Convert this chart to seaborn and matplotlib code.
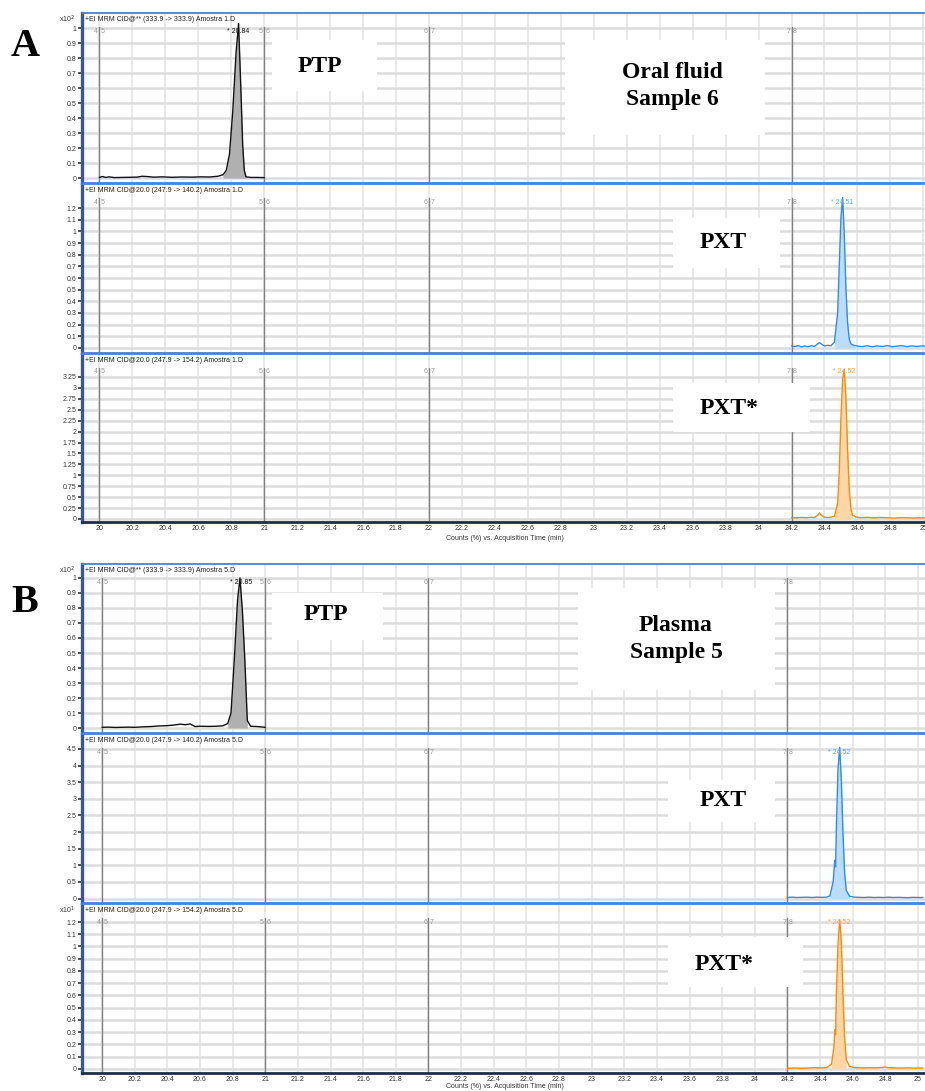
import numpy as np
import pandas as pd
import matplotlib
matplotlib.use("Agg")
import matplotlib.pyplot as plt
import seaborn as sns
from matplotlib.patches import Rectangle
from matplotlib.ticker import FuncFormatter

# ---- chromatogram traces (acquisition time in min, counts in axis units) ----
# A: oral fluid sample 6
a_ptp_t = [20.00, 20.02, 20.04, 20.06, 20.09, 20.13, 20.18, 20.23, 20.26, 20.29, 20.33, 20.38, 20.44,
           20.50, 20.56, 20.62, 20.67, 20.72, 20.75, 20.77, 20.79, 20.81, 20.83, 20.845, 20.86, 20.87,
           20.88, 20.89, 20.92, 20.96, 21.00]
a_ptp_y = [0.004, 0.010, 0.004, 0.008, 0.003, 0.004, 0.005, 0.006, 0.012, 0.010, 0.006, 0.008, 0.005,
           0.007, 0.006, 0.008, 0.007, 0.012, 0.022, 0.05, 0.16, 0.45, 0.84, 1.03, 0.56, 0.22,
           0.05, 0.008, 0.004, 0.004, 0.003]

a_pxt_t = [24.20, 24.22, 24.24, 24.26, 24.28, 24.30, 24.32, 24.34, 24.355, 24.37, 24.385, 24.40, 24.42,
           24.44, 24.46, 24.48, 24.49, 24.50, 24.51, 24.52, 24.53, 24.54, 24.55, 24.56, 24.58, 24.60,
           24.63, 24.66, 24.69, 24.72, 24.75, 24.78, 24.81, 24.84, 24.87, 24.90, 24.93, 24.96, 24.99, 25.02]
a_pxt_y = [0.018, 0.012, 0.020, 0.010, 0.016, 0.011, 0.019, 0.014, 0.032, 0.045, 0.030, 0.018, 0.022,
           0.020, 0.05, 0.30, 0.72, 1.12, 1.29, 0.98, 0.52, 0.22, 0.08, 0.035, 0.022, 0.016,
           0.012, 0.019, 0.011, 0.017, 0.013, 0.020, 0.011, 0.016, 0.019, 0.012, 0.017, 0.013, 0.018, 0.014]

a_pxts_t = [24.20, 24.23, 24.26, 24.29, 24.32, 24.34, 24.36, 24.37, 24.38, 24.40, 24.43, 24.46, 24.48,
            24.49, 24.50, 24.51, 24.52, 24.53, 24.54, 24.55, 24.56, 24.57, 24.59, 24.62, 24.66, 24.70,
            24.74, 24.78, 24.82, 24.86, 24.90, 24.94, 24.98, 25.02]
a_pxts_y = [0.03, 0.025, 0.035, 0.03, 0.04, 0.035, 0.09, 0.14, 0.09, 0.04, 0.035, 0.06, 0.35,
            1.10, 2.30, 3.20, 3.42, 2.80, 1.60, 0.70, 0.25, 0.09, 0.045, 0.03, 0.038, 0.025,
            0.035, 0.028, 0.02, 0.03, 0.025, 0.02, 0.028, 0.022]

# B: plasma sample 5
b_ptp_t = [20.00, 20.04, 20.08, 20.12, 20.16, 20.20, 20.25, 20.30, 20.35, 20.40, 20.44, 20.48, 20.51,
           20.54, 20.57, 20.60, 20.65, 20.70, 20.74, 20.77, 20.79, 20.81, 20.83, 20.845, 20.86, 20.875,
           20.89, 20.91, 20.95, 21.00]
b_ptp_y = [0.005, 0.006, 0.004, 0.005, 0.006, 0.005, 0.008, 0.010, 0.014, 0.016, 0.020, 0.026, 0.022,
           0.027, 0.010, 0.012, 0.011, 0.012, 0.015, 0.03, 0.10, 0.45, 0.85, 1.00, 0.78, 0.45,
           0.05, 0.012, 0.010, 0.005]

b_pxt_t = [24.20, 24.23, 24.26, 24.29, 24.32, 24.35, 24.38, 24.41, 24.44, 24.46, 24.48, 24.49, 24.495,
           24.50, 24.51, 24.52, 24.53, 24.54, 24.55, 24.56, 24.58, 24.61, 24.64, 24.67, 24.70, 24.73,
           24.76, 24.79, 24.82, 24.85, 24.88, 24.91, 24.94, 24.97, 25.00, 25.03]
b_pxt_y = [0.03, 0.04, 0.03, 0.035, 0.04, 0.03, 0.04, 0.035, 0.04, 0.08, 0.50, 1.15, 0.95,
           2.20, 3.90, 4.55, 3.60, 2.00, 0.80, 0.25, 0.07, 0.04, 0.035, 0.03, 0.04, 0.03,
           0.035, 0.03, 0.04, 0.03, 0.035, 0.03, 0.025, 0.035, 0.03, 0.03]

b_pxts_t = [24.20, 24.24, 24.28, 24.32, 24.36, 24.40, 24.44, 24.47, 24.485, 24.49, 24.495, 24.50, 24.51,
            24.52, 24.53, 24.54, 24.55, 24.56, 24.58, 24.62, 24.66, 24.70, 24.74, 24.78, 24.80, 24.82,
            24.86, 24.90, 24.94, 24.98, 25.03]
b_pxts_y = [0.005, 0.008, 0.006, 0.007, 0.01, 0.008, 0.01, 0.04, 0.18, 0.32, 0.28, 0.62, 1.02,
            1.22, 1.05, 0.62, 0.26, 0.08, 0.02, 0.01, 0.008, 0.01, 0.009, 0.012, 0.016, 0.01,
            0.008, 0.007, 0.009, 0.006, 0.008]

# peak integration windows and labels
a_windows = [(20.75, 20.90), (24.45, 24.58), (24.46, 24.58)]
b_windows = [(20.76, 20.90), (24.45, 24.59), (24.47, 24.57)]
a_peaks = [(20.84, "* 20.84"), (24.51, "* 24.51"), (24.52, "* 24.52")]
b_peaks = [(20.85, "* 20.85"), (24.52, "* 24.52"), (24.52, "* 24.52")]

titles_a = ["+EI MRM CID@** (333.9 -> 333.9) Amostra 1.D",
            "+EI MRM CID@20.0 (247.9 -> 140.2) Amostra 1.D",
            "+EI MRM CID@20.0 (247.9 -> 154.2) Amostra 1.D"]
titles_b = ["+EI MRM CID@** (333.9 -> 333.9) Amostra 5.D",
            "+EI MRM CID@20.0 (247.9 -> 140.2) Amostra 5.D",
            "+EI MRM CID@20.0 (247.9 -> 154.2) Amostra 5.D"]

# time segment boundaries
seg_times = [20.0, 21.0, 22.0, 24.2]
seg_labels = [("4", "5"), ("5", "6"), ("6", "7"), ("7", "8")]

x_ticks = [20, 20.2, 20.4, 20.6, 20.8, 21, 21.2, 21.4, 21.6, 21.8, 22, 22.2, 22.4, 22.6, 22.8,
           23, 23.2, 23.4, 23.6, 23.8, 24, 24.2, 24.4, 24.6, 24.8, 25]

BLACK, BLUE, ORANGE = "#111111", "#2b8cf2", "#ff8a00"
FILLS = {BLACK: "#b0b0b0", BLUE: "#bcdcfb", ORANGE: "#fdd6a8"}
LABEL_COL = {BLACK: "#111111", BLUE: "#58a8f5", ORANGE: "#f7a24a"}

sns.set_theme(style="white")
plt.rcParams["font.family"] = ["Liberation Sans", "DejaVu Sans"]

W, H = 925, 1091
fig = plt.figure(figsize=(W / 100, H / 100), dpi=100)


def px_axes(top, bottom, left=82, right=926):
    return fig.add_axes([left / W, 1 - bottom / H, (right - left) / W, (bottom - top) / H])


panels = [
    # group A
    dict(top=13, bottom=183, ylim=(-0.033, 1.10), step=0.1, ymax=1.0, mult="2",
         t=a_ptp_t, y=a_ptp_y, color=BLACK, win=a_windows[0], peak=a_peaks[0], title=titles_a[0],
         xlim=(19.895, 25.016), last=False),
    dict(top=184, bottom=353, ylim=(-0.043, 1.406), step=0.1, ymax=1.2, mult=None,
         t=a_pxt_t, y=a_pxt_y, color=BLUE, win=a_windows[1], peak=a_peaks[1], title=titles_a[1],
         xlim=(19.895, 25.016), last=False),
    dict(top=354, bottom=522, ylim=(-0.069, 3.776), step=0.25, ymax=3.25, mult=None,
         t=a_pxts_t, y=a_pxts_y, color=ORANGE, win=a_windows[2], peak=a_peaks[2], title=titles_a[2],
         xlim=(19.895, 25.016), last=True),
    # group B
    dict(top=564, bottom=733, ylim=(-0.033, 1.093), step=0.1, ymax=1.0, mult="2",
         t=b_ptp_t, y=b_ptp_y, color=BLACK, win=b_windows[0], peak=b_peaks[0], title=titles_b[0],
         xlim=(19.877, 25.049), last=False),
    dict(top=734, bottom=903, ylim=(-0.135, 4.95), step=0.5, ymax=4.5, mult=None,
         t=b_pxt_t, y=b_pxt_y, color=BLUE, win=b_windows[1], peak=b_peaks[1], title=titles_b[1],
         xlim=(19.877, 25.049), last=False),
    dict(top=904, bottom=1073, ylim=(-0.033, 1.347), step=0.1, ymax=1.2, mult="1",
         t=b_pxts_t, y=b_pxts_y, color=ORANGE, win=b_windows[2], peak=b_peaks[2], title=titles_b[2],
         xlim=(19.877, 25.049), last=True),
]

fmt = FuncFormatter(lambda v, _: f"{v:g}")

for p in panels:
    ax = px_axes(p["top"], p["bottom"])
    ax.set_xlim(*p["xlim"])
    ax.set_ylim(*p["ylim"])
    yt = np.round(np.arange(0, p["ymax"] + p["step"] / 2, p["step"]), 3)
    ax.set_yticks(yt)
    ax.yaxis.set_major_formatter(fmt)
    ax.set_xticks(x_ticks)
    ax.xaxis.set_major_formatter(fmt)

    # grid
    ax.grid(False)
    for xv in x_ticks:
        ax.axvline(xv, color="#e9e9e9", lw=1.4, zorder=0.5)
    for yv in yt:
        ax.axhline(yv, color="#dcdcdc", lw=1.8, zorder=0.6)

    # segment boundaries
    xf = ax.get_xaxis_transform()
    for xs, (l, r) in zip(seg_times, seg_labels):
        ax.axvline(xs, ymin=0, ymax=0.915, color="#808080", lw=1.0, zorder=1)
        ax.annotate(l, xy=(xs, 0.893), xycoords=xf, xytext=(-1, 0), textcoords="offset points",
                    ha="right", va="center", fontsize=5, color="#9a9a9a")
        ax.annotate(r, xy=(xs, 0.893), xycoords=xf, xytext=(1, 0), textcoords="offset points",
                    ha="left", va="center", fontsize=5, color="#9a9a9a")

    # trace + integrated peak
    t = np.array(p["t"])
    y = np.array(p["y"])
    lo, hi = p["win"]
    m = (t >= lo) & (t <= hi)
    ax.fill_between(t[m], 0, y[m], color=FILLS[p["color"]], lw=0, zorder=2)
    sns.lineplot(x=p["t"], y=p["y"], ax=ax, color=p["color"], lw=1.0, estimator=None,
                 sort=False, zorder=3)

    px, plab = p["peak"]
    ax.text(px, 0.893, plab, transform=xf, ha="center", va="center", fontsize=5,
            color=LABEL_COL[p["color"]], zorder=4)

    ax.text(0.003, 0.963, p["title"], transform=ax.transAxes, ha="left", va="center",
            fontsize=5, color="#222222")
    if p["mult"]:
        ax.text(-0.008, 0.965, r"x10$^{%s}$" % p["mult"], transform=ax.transAxes, ha="right",
                va="center", fontsize=5, color="#333333")

    ax.tick_params(axis="y", left=True, length=3, width=1.2, color="#333333", pad=1,
                   labelsize=5, labelcolor="#333333")
    ax.tick_params(axis="x", bottom=False, length=0, pad=2, labelsize=5, labelcolor="#333333")
    if not p["last"]:
        ax.tick_params(axis="x", labelbottom=False)
    ax.set_xlabel("")
    ax.set_ylabel("")

    for side in ["top", "right", "bottom"]:
        ax.spines[side].set_color("#4a80d6")
        ax.spines[side].set_linewidth(1.3)
    ax.spines["left"].set_color("#34589a")
    ax.spines["left"].set_linewidth(2.4)
    if p["last"]:
        ax.spines["bottom"].set_color("#1d2d4f")
        ax.spines["bottom"].set_linewidth(2.0)


def px_text(x, y, s, **kw):
    fig.text(x / W, 1 - y / H, s, **kw)


def px_box(x0, y0, x1, y1):
    fig.add_artist(Rectangle((x0 / W, 1 - y1 / H), (x1 - x0) / W, (y1 - y0) / H,
                             transform=fig.transFigure, facecolor="white", edgecolor="none",
                             zorder=5))


serif = dict(family=["Liberation Serif", "DejaVu Serif"], fontweight="bold", color="black",
             ha="center", va="center", zorder=6)

# x-axis labels
px_text(505, 538, "Counts (%) vs. Acquisition Time (min)", fontsize=5, ha="center", va="center",
        color="#333333")
px_text(505, 1087, "Counts (%) vs. Acquisition Time (min)", fontsize=5, ha="center", va="center",
        color="#333333")

# panel letters
px_text(25, 46, "A", fontsize=29, **serif)
px_text(25, 603, "B", fontsize=29, **serif)

# analyte / sample labels
px_box(272, 40, 377, 91)
px_text(320, 67, "PTP", fontsize=17, **serif)
px_box(565, 40, 765, 135)
px_text(672, 86, "Oral fluid\nSample 6", fontsize=17, linespacing=1.35, **serif)
px_box(673, 218, 780, 268)
px_text(723, 243, "PXT", fontsize=17, **serif)
px_box(673, 383, 810, 432)
px_text(729, 408, "PXT*", fontsize=17, **serif)

px_box(272, 593, 383, 640)
px_text(326, 614, "PTP", fontsize=17, **serif)
px_box(578, 588, 775, 690)
px_text(676, 639, "Plasma\nSample 5", fontsize=17, linespacing=1.35, **serif)
px_box(668, 780, 775, 822)
px_text(723, 800, "PXT", fontsize=17, **serif)
px_box(668, 937, 803, 987)
px_text(724, 965, "PXT*", fontsize=17, **serif)

fig.savefig("out.png", dpi=100)
